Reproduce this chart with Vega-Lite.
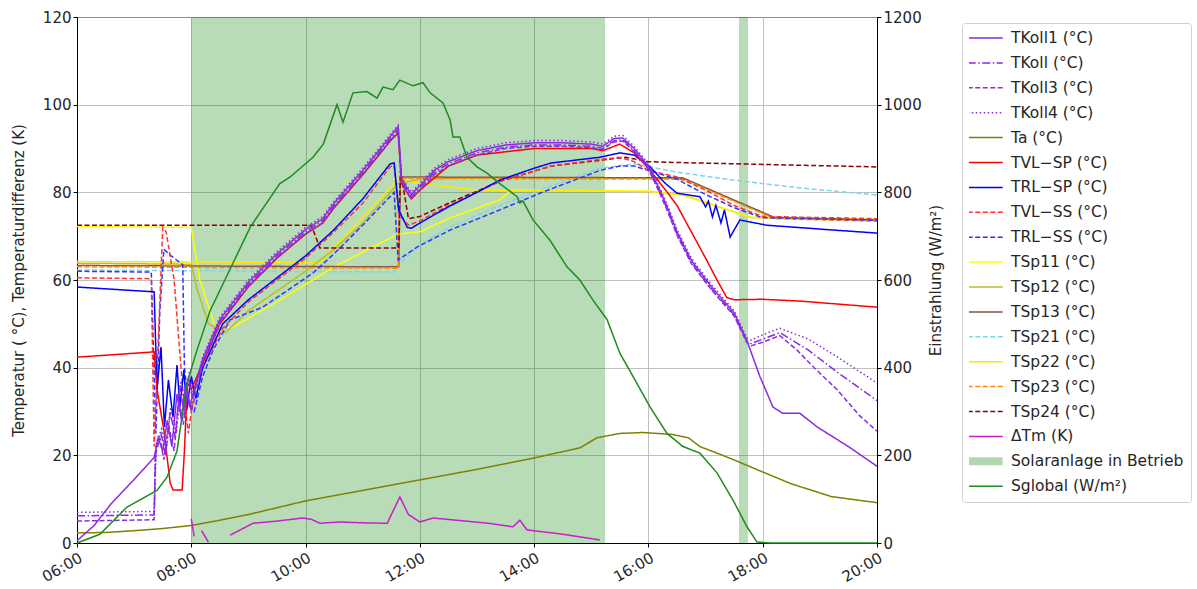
{
"$schema":"https://vega.github.io/schema/vega-lite/v6.json",
"width":800,"height":526,
"autosize":{"type":"none"},
"padding":{"left":77,"top":17,"right":320,"bottom":46},
"background":"white",
"datasets":{
"names":[
{"k":"K1","name":"TKoll1 (°C)"},{"k":"K","name":"TKoll (°C)"},{"k":"K3","name":"TKoll3 (°C)"},{"k":"K4","name":"TKoll4 (°C)"},
{"k":"Ta","name":"Ta (°C)"},{"k":"VLSP","name":"TVL−SP (°C)"},{"k":"RLSP","name":"TRL−SP (°C)"},{"k":"VLSS","name":"TVL−SS (°C)"},{"k":"RLSS","name":"TRL−SS (°C)"},
{"k":"S11","name":"TSp11 (°C)"},{"k":"S12","name":"TSp12 (°C)"},{"k":"S13","name":"TSp13 (°C)"},{"k":"S21","name":"TSp21 (°C)"},{"k":"S22","name":"TSp22 (°C)"},{"k":"S23","name":"TSp23 (°C)"},{"k":"S24","name":"TSp24 (°C)"},
{"k":"dT","name":"ΔTm (K)"},{"k":"SG","name":"Sglobal (W/m²)"}],
"bands":[{"a":8.0,"b":15.24},{"a":17.585,"b":17.743}],
"lines":[
{"k":"Ta","h":6.0,"v":2.3},{"k":"Ta","h":6.5,"v":2.4},{"k":"Ta","h":7.0,"v":2.8},{"k":"Ta","h":7.5,"v":3.3},{"k":"Ta","h":8.0,"v":4.0},{"k":"Ta","h":8.5,"v":5.2},{"k":"Ta","h":9.0,"v":6.5},{"k":"Ta","h":10.0,"v":9.6},{"k":"Ta","h":11.0,"v":12.0},{"k":"Ta","h":12.0,"v":14.4},{"k":"Ta","h":13.0,"v":16.8},{"k":"Ta","h":14.0,"v":19.4},{"k":"Ta","h":14.8,"v":21.7},{"k":"Ta","h":15.1,"v":24.0},{"k":"Ta","h":15.5,"v":25.0},{"k":"Ta","h":15.9,"v":25.2},{"k":"Ta","h":16.4,"v":24.8},{"k":"Ta","h":16.7,"v":24.0},{"k":"Ta","h":16.9,"v":22.0},{"k":"Ta","h":17.3,"v":20.0},{"k":"Ta","h":17.6,"v":18.4},{"k":"Ta","h":18.0,"v":16.2},{"k":"Ta","h":18.5,"v":13.5},{"k":"Ta","h":19.2,"v":10.6},{"k":"Ta","h":20.0,"v":9.2},
{"k":"S21","h":6.0,"v":62.3},{"k":"S21","h":11.55,"v":61.8},{"k":"S21","h":11.62,"v":63.5},{"k":"S21","h":12.0,"v":68.0},{"k":"S21","h":12.5,"v":72.0},{"k":"S21","h":13.4,"v":77.0},{"k":"S21","h":14.1,"v":80.5},{"k":"S21","h":15.15,"v":85.5},{"k":"S21","h":15.75,"v":86.5},{"k":"S21","h":16.5,"v":84.6},{"k":"S21","h":17.48,"v":82.8},{"k":"S21","h":18.65,"v":81.0},{"k":"S21","h":20.0,"v":79.4},
{"k":"S11","h":6.0,"v":72.2},{"k":"S11","h":8.0,"v":72.0},{"k":"S11","h":8.15,"v":60.0},{"k":"S11","h":8.4,"v":50.0},{"k":"S11","h":8.7,"v":49.0},{"k":"S11","h":9.5,"v":55.0},{"k":"S11","h":10.5,"v":63.0},{"k":"S11","h":11.62,"v":70.5},{"k":"S11","h":12.0,"v":71.0},{"k":"S11","h":12.5,"v":74.0},{"k":"S11","h":13.4,"v":78.3},{"k":"S11","h":13.6,"v":80.5},{"k":"S11","h":16.0,"v":80.3},{"k":"S11","h":16.6,"v":79.3},{"k":"S11","h":17.8,"v":74.3},{"k":"S11","h":20.0,"v":73.8},
{"k":"S22","h":6.0,"v":64.2},{"k":"S22","h":10.25,"v":64.0},{"k":"S22","h":11.62,"v":83.0},{"k":"S22","h":12.0,"v":82.0},{"k":"S22","h":13.0,"v":80.5},{"k":"S22","h":16.0,"v":80.2},{"k":"S22","h":16.6,"v":79.5},{"k":"S22","h":17.8,"v":74.2},{"k":"S22","h":20.0,"v":73.8},
{"k":"S12","h":6.0,"v":63.8},{"k":"S12","h":8.0,"v":63.6},{"k":"S12","h":8.1,"v":58.0},{"k":"S12","h":8.3,"v":50.0},{"k":"S12","h":8.6,"v":48.0},{"k":"S12","h":9.0,"v":53.0},{"k":"S12","h":9.5,"v":57.5},{"k":"S12","h":10.0,"v":62.0},{"k":"S12","h":10.5,"v":67.0},{"k":"S12","h":11.0,"v":73.0},{"k":"S12","h":11.62,"v":82.0},{"k":"S12","h":12.0,"v":83.0},{"k":"S12","h":13.0,"v":83.3},{"k":"S12","h":16.6,"v":83.2},{"k":"S12","h":18.2,"v":74.2},{"k":"S12","h":20.0,"v":73.6},
{"k":"S13","h":6.0,"v":63.3},{"k":"S13","h":11.63,"v":63.0},{"k":"S13","h":11.66,"v":83.5},{"k":"S13","h":16.6,"v":83.3},{"k":"S13","h":18.2,"v":74.3},{"k":"S13","h":20.0,"v":73.7},
{"k":"S23","h":6.0,"v":63.0},{"k":"S23","h":11.62,"v":62.7},{"k":"S23","h":11.65,"v":83.2},{"k":"S23","h":16.6,"v":83.0},{"k":"S23","h":18.2,"v":74.0},{"k":"S23","h":20.0,"v":73.4},
{"k":"S24","h":6.0,"v":72.5},{"k":"S24","h":10.1,"v":72.5},{"k":"S24","h":10.25,"v":67.3},{"k":"S24","h":11.63,"v":67.3},{"k":"S24","h":11.66,"v":85.0},{"k":"S24","h":11.8,"v":74.0},{"k":"S24","h":12.0,"v":74.5},{"k":"S24","h":12.5,"v":77.5},{"k":"S24","h":13.4,"v":82.5},{"k":"S24","h":14.3,"v":86.0},{"k":"S24","h":15.15,"v":87.3},{"k":"S24","h":15.6,"v":88.0},{"k":"S24","h":16.0,"v":87.0},{"k":"S24","h":16.5,"v":86.8},{"k":"S24","h":20.0,"v":85.8},
{"k":"RLSS","h":6.0,"v":62.0},{"k":"RLSS","h":7.3,"v":61.8},{"k":"RLSS","h":7.38,"v":25.0},{"k":"RLSS","h":7.45,"v":53.0},{"k":"RLSS","h":7.52,"v":67.0},{"k":"RLSS","h":7.65,"v":65.5},{"k":"RLSS","h":7.85,"v":63.5},{"k":"RLSS","h":7.88,"v":40.0},{"k":"RLSS","h":7.95,"v":32.0},{"k":"RLSS","h":8.05,"v":30.0},{"k":"RLSS","h":8.2,"v":38.0},{"k":"RLSS","h":8.38,"v":44.0},{"k":"RLSS","h":8.68,"v":50.9},{"k":"RLSS","h":9.25,"v":53.8},{"k":"RLSS","h":10.13,"v":61.6},{"k":"RLSS","h":10.5,"v":66.0},{"k":"RLSS","h":11.0,"v":72.5},{"k":"RLSS","h":11.55,"v":80.0},{"k":"RLSS","h":11.62,"v":64.6},{"k":"RLSS","h":11.95,"v":67.5},{"k":"RLSS","h":12.53,"v":71.4},{"k":"RLSS","h":13.4,"v":76.0},{"k":"RLSS","h":14.1,"v":79.8},{"k":"RLSS","h":15.15,"v":85.0},{"k":"RLSS","h":15.5,"v":86.0},{"k":"RLSS","h":15.75,"v":86.0},{"k":"RLSS","h":16.0,"v":85.0},{"k":"RLSS","h":16.5,"v":83.0},{"k":"RLSS","h":17.0,"v":79.5},{"k":"RLSS","h":17.5,"v":76.5},{"k":"RLSS","h":18.0,"v":74.2},{"k":"RLSS","h":20.0,"v":73.6},
{"k":"VLSS","h":6.0,"v":60.5},{"k":"VLSS","h":7.3,"v":60.3},{"k":"VLSS","h":7.35,"v":22.0},{"k":"VLSS","h":7.5,"v":72.0},{"k":"VLSS","h":7.56,"v":71.0},{"k":"VLSS","h":7.7,"v":60.0},{"k":"VLSS","h":7.85,"v":35.0},{"k":"VLSS","h":7.95,"v":25.0},{"k":"VLSS","h":8.05,"v":35.0},{"k":"VLSS","h":8.2,"v":40.0},{"k":"VLSS","h":8.55,"v":49.0},{"k":"VLSS","h":9.0,"v":55.0},{"k":"VLSS","h":9.5,"v":60.0},{"k":"VLSS","h":10.0,"v":65.0},{"k":"VLSS","h":10.5,"v":71.0},{"k":"VLSS","h":11.0,"v":77.5},{"k":"VLSS","h":11.48,"v":85.8},{"k":"VLSS","h":11.55,"v":86.2},{"k":"VLSS","h":11.63,"v":75.0},{"k":"VLSS","h":11.8,"v":72.5},{"k":"VLSS","h":12.0,"v":73.5},{"k":"VLSS","h":12.5,"v":77.0},{"k":"VLSS","h":13.4,"v":82.5},{"k":"VLSS","h":14.3,"v":86.0},{"k":"VLSS","h":15.15,"v":87.5},{"k":"VLSS","h":15.5,"v":88.0},{"k":"VLSS","h":15.75,"v":87.0},{"k":"VLSS","h":16.0,"v":85.0},{"k":"VLSS","h":16.5,"v":83.5},{"k":"VLSS","h":17.0,"v":80.5},{"k":"VLSS","h":17.5,"v":77.0},{"k":"VLSS","h":18.0,"v":74.5},{"k":"VLSS","h":20.0,"v":74.0},
{"k":"RLSP","h":6.0,"v":58.4},{"k":"RLSP","h":7.35,"v":57.3},{"k":"RLSP","h":7.4,"v":35.0},{"k":"RLSP","h":7.47,"v":44.7},{"k":"RLSP","h":7.53,"v":26.5},{"k":"RLSP","h":7.6,"v":37.2},{"k":"RLSP","h":7.68,"v":28.7},{"k":"RLSP","h":7.75,"v":40.6},{"k":"RLSP","h":7.8,"v":31.0},{"k":"RLSP","h":7.87,"v":39.5},{"k":"RLSP","h":7.92,"v":30.3},{"k":"RLSP","h":8.0,"v":38.0},{"k":"RLSP","h":8.08,"v":33.0},{"k":"RLSP","h":8.2,"v":40.0},{"k":"RLSP","h":8.55,"v":50.0},{"k":"RLSP","h":9.0,"v":55.5},{"k":"RLSP","h":9.5,"v":60.5},{"k":"RLSP","h":10.0,"v":65.5},{"k":"RLSP","h":10.5,"v":71.5},{"k":"RLSP","h":11.0,"v":78.5},{"k":"RLSP","h":11.48,"v":86.5},{"k":"RLSP","h":11.55,"v":86.7},{"k":"RLSP","h":11.63,"v":76.0},{"k":"RLSP","h":11.78,"v":72.0},{"k":"RLSP","h":11.85,"v":71.8},{"k":"RLSP","h":12.0,"v":73.0},{"k":"RLSP","h":12.5,"v":76.7},{"k":"RLSP","h":13.0,"v":80.0},{"k":"RLSP","h":13.4,"v":82.8},{"k":"RLSP","h":14.0,"v":85.5},{"k":"RLSP","h":14.3,"v":86.7},{"k":"RLSP","h":15.15,"v":88.0},{"k":"RLSP","h":15.5,"v":89.0},{"k":"RLSP","h":15.75,"v":88.5},{"k":"RLSP","h":16.03,"v":85.8},{"k":"RLSP","h":16.3,"v":82.0},{"k":"RLSP","h":16.5,"v":79.8},{"k":"RLSP","h":16.9,"v":79.0},{"k":"RLSP","h":17.0,"v":76.7},{"k":"RLSP","h":17.05,"v":78.0},{"k":"RLSP","h":17.12,"v":74.4},{"k":"RLSP","h":17.18,"v":77.0},{"k":"RLSP","h":17.27,"v":73.0},{"k":"RLSP","h":17.33,"v":76.0},{"k":"RLSP","h":17.43,"v":69.8},{"k":"RLSP","h":17.6,"v":73.7},{"k":"RLSP","h":18.07,"v":72.5},{"k":"RLSP","h":19.23,"v":71.4},{"k":"RLSP","h":20.0,"v":70.7},
{"k":"VLSP","h":6.0,"v":42.4},{"k":"VLSP","h":7.35,"v":43.6},{"k":"VLSP","h":7.4,"v":35.0},{"k":"VLSP","h":7.52,"v":25.8},{"k":"VLSP","h":7.63,"v":13.7},{"k":"VLSP","h":7.68,"v":12.1},{"k":"VLSP","h":7.84,"v":12.1},{"k":"VLSP","h":7.88,"v":21.0},{"k":"VLSP","h":7.93,"v":36.5},{"k":"VLSP","h":8.0,"v":35.0},{"k":"VLSP","h":8.2,"v":41.0},{"k":"VLSP","h":8.5,"v":50.0},{"k":"VLSP","h":9.0,"v":58.5},{"k":"VLSP","h":9.5,"v":65.0},{"k":"VLSP","h":10.0,"v":70.5},{"k":"VLSP","h":10.3,"v":73.0},{"k":"VLSP","h":10.5,"v":76.5},{"k":"VLSP","h":11.0,"v":84.0},{"k":"VLSP","h":11.5,"v":92.0},{"k":"VLSP","h":11.62,"v":93.5},{"k":"VLSP","h":11.68,"v":82.0},{"k":"VLSP","h":11.85,"v":78.5},{"k":"VLSP","h":12.0,"v":80.5},{"k":"VLSP","h":12.5,"v":86.0},{"k":"VLSP","h":13.0,"v":88.5},{"k":"VLSP","h":14.0,"v":90.0},{"k":"VLSP","h":15.0,"v":90.0},{"k":"VLSP","h":15.2,"v":89.5},{"k":"VLSP","h":15.5,"v":91.0},{"k":"VLSP","h":15.75,"v":89.0},{"k":"VLSP","h":16.0,"v":85.5},{"k":"VLSP","h":16.33,"v":80.0},{"k":"VLSP","h":16.5,"v":77.0},{"k":"VLSP","h":16.75,"v":71.0},{"k":"VLSP","h":17.0,"v":65.0},{"k":"VLSP","h":17.2,"v":60.0},{"k":"VLSP","h":17.37,"v":56.0},{"k":"VLSP","h":17.5,"v":55.5},{"k":"VLSP","h":18.0,"v":55.6},{"k":"VLSP","h":18.65,"v":55.2},{"k":"VLSP","h":20.0,"v":53.8},
{"k":"K4","h":6.0,"v":7.0},{"k":"K4","h":7.35,"v":7.2},{"k":"K4","h":7.39,"v":23.0},{"k":"K4","h":7.48,"v":26.0},{"k":"K4","h":7.56,"v":21.0},{"k":"K4","h":7.64,"v":31.0},{"k":"K4","h":7.74,"v":25.0},{"k":"K4","h":7.82,"v":37.0},{"k":"K4","h":7.9,"v":30.0},{"k":"K4","h":7.96,"v":39.0},{"k":"K4","h":8.04,"v":34.0},{"k":"K4","h":8.2,"v":42.5},{"k":"K4","h":8.5,"v":51.5},{"k":"K4","h":9.0,"v":60.0},{"k":"K4","h":9.5,"v":66.5},{"k":"K4","h":10.0,"v":72.0},{"k":"K4","h":10.3,"v":74.5},{"k":"K4","h":10.5,"v":78.0},{"k":"K4","h":11.0,"v":85.5},{"k":"K4","h":11.5,"v":93.5},{"k":"K4","h":11.62,"v":95.3},{"k":"K4","h":11.68,"v":83.5},{"k":"K4","h":11.85,"v":80.0},{"k":"K4","h":12.0,"v":82.0},{"k":"K4","h":12.25,"v":85.5},{"k":"K4","h":12.5,"v":87.5},{"k":"K4","h":13.0,"v":90.0},{"k":"K4","h":13.5,"v":91.3},{"k":"K4","h":14.0,"v":91.8},{"k":"K4","h":14.5,"v":91.8},{"k":"K4","h":15.0,"v":91.5},{"k":"K4","h":15.2,"v":91.0},{"k":"K4","h":15.4,"v":92.8},{"k":"K4","h":15.55,"v":93.0},{"k":"K4","h":15.75,"v":90.5},{"k":"K4","h":16.0,"v":86.5},{"k":"K4","h":16.2,"v":81.0},{"k":"K4","h":16.35,"v":76.5},{"k":"K4","h":16.5,"v":71.5},{"k":"K4","h":16.75,"v":65.0},{"k":"K4","h":17.1,"v":59.0},{"k":"K4","h":17.5,"v":53.0},{"k":"K4","h":17.72,"v":46.8},{"k":"K4","h":17.8,"v":46.3},{"k":"K4","h":18.0,"v":47.5},{"k":"K4","h":18.3,"v":49.0},{"k":"K4","h":18.8,"v":46.5},{"k":"K4","h":19.3,"v":42.5},{"k":"K4","h":20.0,"v":36.5},
{"k":"K3","h":6.0,"v":5.0},{"k":"K3","h":7.35,"v":5.3},{"k":"K3","h":7.37,"v":20.0},{"k":"K3","h":7.45,"v":24.0},{"k":"K3","h":7.52,"v":19.0},{"k":"K3","h":7.6,"v":27.0},{"k":"K3","h":7.7,"v":21.0},{"k":"K3","h":7.78,"v":33.0},{"k":"K3","h":7.86,"v":27.0},{"k":"K3","h":7.93,"v":35.0},{"k":"K3","h":8.0,"v":30.0},{"k":"K3","h":8.2,"v":40.5},{"k":"K3","h":8.5,"v":50.0},{"k":"K3","h":9.0,"v":58.5},{"k":"K3","h":9.5,"v":65.0},{"k":"K3","h":10.0,"v":70.5},{"k":"K3","h":10.3,"v":73.0},{"k":"K3","h":10.5,"v":76.5},{"k":"K3","h":11.0,"v":84.0},{"k":"K3","h":11.5,"v":92.0},{"k":"K3","h":11.62,"v":94.0},{"k":"K3","h":11.68,"v":82.0},{"k":"K3","h":11.85,"v":78.5},{"k":"K3","h":12.0,"v":80.5},{"k":"K3","h":12.25,"v":84.0},{"k":"K3","h":12.5,"v":86.0},{"k":"K3","h":13.0,"v":88.5},{"k":"K3","h":13.5,"v":90.0},{"k":"K3","h":14.0,"v":90.5},{"k":"K3","h":14.5,"v":90.5},{"k":"K3","h":15.0,"v":90.2},{"k":"K3","h":15.2,"v":89.8},{"k":"K3","h":15.4,"v":91.5},{"k":"K3","h":15.55,"v":91.7},{"k":"K3","h":15.75,"v":89.3},{"k":"K3","h":16.0,"v":85.3},{"k":"K3","h":16.2,"v":79.8},{"k":"K3","h":16.35,"v":75.2},{"k":"K3","h":16.5,"v":70.2},{"k":"K3","h":16.75,"v":63.8},{"k":"K3","h":17.1,"v":57.8},{"k":"K3","h":17.5,"v":51.8},{"k":"K3","h":17.72,"v":45.8},{"k":"K3","h":17.8,"v":45.0},{"k":"K3","h":18.0,"v":45.8},{"k":"K3","h":18.3,"v":47.3},{"k":"K3","h":18.6,"v":44.0},{"k":"K3","h":18.9,"v":40.0},{"k":"K3","h":19.3,"v":35.0},{"k":"K3","h":19.7,"v":29.0},{"k":"K3","h":20.0,"v":25.5},
{"k":"K","h":6.0,"v":6.2},{"k":"K","h":7.35,"v":6.4},{"k":"K","h":7.38,"v":22.0},{"k":"K","h":7.47,"v":25.0},{"k":"K","h":7.55,"v":20.0},{"k":"K","h":7.63,"v":30.0},{"k":"K","h":7.72,"v":24.0},{"k":"K","h":7.8,"v":36.0},{"k":"K","h":7.88,"v":29.0},{"k":"K","h":7.95,"v":38.0},{"k":"K","h":8.02,"v":33.0},{"k":"K","h":8.2,"v":41.5},{"k":"K","h":8.5,"v":50.5},{"k":"K","h":9.0,"v":59.0},{"k":"K","h":9.5,"v":65.5},{"k":"K","h":10.0,"v":71.0},{"k":"K","h":10.3,"v":73.5},{"k":"K","h":10.5,"v":77.0},{"k":"K","h":11.0,"v":84.5},{"k":"K","h":11.5,"v":92.5},{"k":"K","h":11.62,"v":94.3},{"k":"K","h":11.68,"v":82.5},{"k":"K","h":11.85,"v":79.0},{"k":"K","h":12.0,"v":81.0},{"k":"K","h":12.25,"v":84.5},{"k":"K","h":12.5,"v":86.5},{"k":"K","h":13.0,"v":89.0},{"k":"K","h":13.5,"v":90.3},{"k":"K","h":14.0,"v":90.8},{"k":"K","h":14.5,"v":90.8},{"k":"K","h":15.0,"v":90.5},{"k":"K","h":15.2,"v":90.0},{"k":"K","h":15.4,"v":91.8},{"k":"K","h":15.55,"v":92.0},{"k":"K","h":15.75,"v":89.5},{"k":"K","h":16.0,"v":85.5},{"k":"K","h":16.2,"v":80.0},{"k":"K","h":16.35,"v":75.5},{"k":"K","h":16.5,"v":70.5},{"k":"K","h":16.75,"v":64.0},{"k":"K","h":17.1,"v":58.0},{"k":"K","h":17.5,"v":52.0},{"k":"K","h":17.72,"v":46.0},{"k":"K","h":17.8,"v":45.5},{"k":"K","h":18.0,"v":46.5},{"k":"K","h":18.3,"v":48.0},{"k":"K","h":18.8,"v":44.0},{"k":"K","h":19.3,"v":39.0},{"k":"K","h":20.0,"v":32.5},
{"k":"K1","h":6.0,"v":0.5},{"k":"K1","h":6.3,"v":4.0},{"k":"K1","h":6.6,"v":9.0},{"k":"K1","h":7.0,"v":14.5},{"k":"K1","h":7.35,"v":19.5},{"k":"K1","h":7.42,"v":24.0},{"k":"K1","h":7.5,"v":21.0},{"k":"K1","h":7.58,"v":28.0},{"k":"K1","h":7.66,"v":22.0},{"k":"K1","h":7.75,"v":34.0},{"k":"K1","h":7.83,"v":28.0},{"k":"K1","h":7.9,"v":36.0},{"k":"K1","h":7.97,"v":31.0},{"k":"K1","h":8.05,"v":35.0},{"k":"K1","h":8.2,"v":42.0},{"k":"K1","h":8.5,"v":51.0},{"k":"K1","h":9.0,"v":59.5},{"k":"K1","h":9.5,"v":66.0},{"k":"K1","h":10.0,"v":71.5},{"k":"K1","h":10.3,"v":74.0},{"k":"K1","h":10.5,"v":77.5},{"k":"K1","h":11.0,"v":85.0},{"k":"K1","h":11.5,"v":93.0},{"k":"K1","h":11.62,"v":95.0},{"k":"K1","h":11.68,"v":83.0},{"k":"K1","h":11.85,"v":79.5},{"k":"K1","h":12.0,"v":81.5},{"k":"K1","h":12.25,"v":85.0},{"k":"K1","h":12.5,"v":87.0},{"k":"K1","h":13.0,"v":89.5},{"k":"K1","h":13.5,"v":90.8},{"k":"K1","h":14.0,"v":91.3},{"k":"K1","h":14.5,"v":91.3},{"k":"K1","h":15.0,"v":91.0},{"k":"K1","h":15.2,"v":90.5},{"k":"K1","h":15.4,"v":92.3},{"k":"K1","h":15.55,"v":92.4},{"k":"K1","h":15.75,"v":90.0},{"k":"K1","h":16.0,"v":86.0},{"k":"K1","h":16.2,"v":80.5},{"k":"K1","h":16.35,"v":76.0},{"k":"K1","h":16.5,"v":71.0},{"k":"K1","h":16.75,"v":64.5},{"k":"K1","h":17.1,"v":58.5},{"k":"K1","h":17.5,"v":52.5},{"k":"K1","h":17.72,"v":46.3},{"k":"K1","h":17.95,"v":38.0},{"k":"K1","h":18.18,"v":31.0},{"k":"K1","h":18.35,"v":29.6},{"k":"K1","h":18.65,"v":29.6},{"k":"K1","h":18.95,"v":26.5},{"k":"K1","h":19.5,"v":22.0},{"k":"K1","h":20.0,"v":17.5},
{"k":"dT","g":1,"h":8.0,"v":5.5},{"k":"dT","g":1,"h":8.05,"v":1.5},{"k":"dT","g":2,"h":8.18,"v":2.8},{"k":"dT","g":2,"h":8.3,"v":0.2},
{"k":"dT","g":3,"h":8.68,"v":1.8},{"k":"dT","g":3,"h":9.08,"v":4.5},{"k":"dT","g":3,"h":9.5,"v":5.0},{"k":"dT","g":3,"h":9.95,"v":5.7},{"k":"dT","g":3,"h":10.1,"v":5.4},{"k":"dT","g":3,"h":10.25,"v":4.5},{"k":"dT","g":3,"h":10.6,"v":4.8},{"k":"dT","g":3,"h":11.0,"v":4.6},{"k":"dT","g":3,"h":11.43,"v":4.5},{"k":"dT","g":3,"h":11.52,"v":7.0},{"k":"dT","g":3,"h":11.65,"v":10.5},{"k":"dT","g":3,"h":11.8,"v":6.5},{"k":"dT","g":3,"h":12.0,"v":4.8},{"k":"dT","g":3,"h":12.23,"v":5.7},{"k":"dT","g":3,"h":12.8,"v":5.0},{"k":"dT","g":3,"h":13.2,"v":4.5},{"k":"dT","g":3,"h":13.63,"v":3.7},{"k":"dT","g":3,"h":13.75,"v":5.2},{"k":"dT","g":3,"h":13.875,"v":3.0},{"k":"dT","g":3,"h":14.5,"v":2.0},{"k":"dT","g":3,"h":15.15,"v":0.7},
{"k":"SG","h":6.0,"v":0},{"k":"SG","h":6.4,"v":20},{"k":"SG","h":6.875,"v":82},{"k":"SG","h":7.4,"v":120},{"k":"SG","h":7.575,"v":150},{"k":"SG","h":7.75,"v":210},{"k":"SG","h":7.925,"v":365},{"k":"SG","h":8.1,"v":440},{"k":"SG","h":8.33,"v":530},{"k":"SG","h":8.68,"v":625},{"k":"SG","h":9.03,"v":720},{"k":"SG","h":9.2,"v":753},{"k":"SG","h":9.55,"v":820},{"k":"SG","h":9.73,"v":835},{"k":"SG","h":10.13,"v":880},{"k":"SG","h":10.31,"v":910},{"k":"SG","h":10.55,"v":1000},{"k":"SG","h":10.655,"v":960},{"k":"SG","h":10.83,"v":1027},{"k":"SG","h":11.075,"v":1030},{"k":"SG","h":11.25,"v":1015},{"k":"SG","h":11.355,"v":1040},{"k":"SG","h":11.53,"v":1034},{"k":"SG","h":11.65,"v":1056},{"k":"SG","h":11.88,"v":1043},{"k":"SG","h":12.055,"v":1050},{"k":"SG","h":12.18,"v":1027},{"k":"SG","h":12.405,"v":1004},{"k":"SG","h":12.53,"v":965},{"k":"SG","h":12.58,"v":926},{"k":"SG","h":12.7,"v":926},{"k":"SG","h":12.825,"v":880},{"k":"SG","h":13.0,"v":858},{"k":"SG","h":13.175,"v":844},{"k":"SG","h":13.4,"v":820},{"k":"SG","h":13.7,"v":790},{"k":"SG","h":13.75,"v":776},{"k":"SG","h":13.805,"v":780},{"k":"SG","h":13.98,"v":737},{"k":"SG","h":14.28,"v":690},{"k":"SG","h":14.575,"v":630},{"k":"SG","h":14.8,"v":600},{"k":"SG","h":15.03,"v":554},{"k":"SG","h":15.275,"v":510},{"k":"SG","h":15.5,"v":433},{"k":"SG","h":15.73,"v":380},{"k":"SG","h":16.03,"v":310},{"k":"SG","h":16.325,"v":250},{"k":"SG","h":16.605,"v":220},{"k":"SG","h":16.9,"v":205},{"k":"SG","h":17.2,"v":160},{"k":"SG","h":17.48,"v":98},{"k":"SG","h":17.725,"v":37},{"k":"SG","h":17.9,"v":2},{"k":"SG","h":18.13,"v":0},{"k":"SG","h":20.0,"v":0}
]},
"layer":[
{"data":{"name":"bands"},
 "mark":{"type":"rect","color":"#008000","opacity":0.28},
 "encoding":{
  "x":{"field":"a","type":"quantitative","scale":{"domain":[6,20],"nice":false,"zero":false},"axis":{"values":[6,8,10,12,14,16,18,20],"labelExpr":"(datum.value < 10 ? '0' : '') + datum.value + ':00'","labelAngle":-30,"labelAlign":"right","labelBaseline":"top","labelPadding":3,"grid":true,"title":null}},
  "x2":{"field":"b"}}},
{"data":{"name":"lines"},
 "transform":[{"filter":"datum.k !== 'SG'"},{"lookup":"k","from":{"data":{"name":"names"},"key":"k","fields":["name"]}}],
 "mark":{"type":"line","strokeWidth":1.5},
 "encoding":{
  "x":{"field":"h","type":"quantitative","scale":{"domain":[6,20],"nice":false,"zero":false},"axis":{"values":[6,8,10,12,14,16,18,20],"labelExpr":"(datum.value < 10 ? '0' : '') + datum.value + ':00'","labelAngle":-30,"labelAlign":"right","labelBaseline":"top","labelPadding":3,"grid":true,"title":null}},
  "y":{"field":"v","type":"quantitative","scale":{"domain":[0,120],"nice":false},"axis":{"values":[0,20,40,60,80,100,120],"grid":true,"title":"Temperatur ( °C), Temperaturdifferenz (K)","titlePadding":16}},
  "detail":{"field":"g","type":"nominal"},
  "color":{"field":"name","type":"nominal",
   "scale":{"domain":["TKoll1 (°C)","TKoll (°C)","TKoll3 (°C)","TKoll4 (°C)","Ta (°C)","TVL−SP (°C)","TRL−SP (°C)","TVL−SS (°C)","TRL−SS (°C)","TSp11 (°C)","TSp12 (°C)","TSp13 (°C)","TSp21 (°C)","TSp22 (°C)","TSp23 (°C)","TSp24 (°C)","ΔTm (K)","Solaranlage in Betrieb","Sglobal (W/m²)"],
    "range":["#8a2be2","#8a2be2","#8a2be2","#8a2be2","#808000","#ff0000","#0000ff","#ff3333","#3333ff","#ffff00","#bcbd22","#8c564b","#7fd4ee","#ffe800","#ff8c00","#8b0000","#c71fc7","#b2d8b2","#1f8a1f"]},
   "legend":{"clipHeight":16,"symbolOffset":8.5,"labelOffset":18,"encode":{"symbols":{"update":{"size":{"value":1225},"strokeWidth":{"signal":"datum.value === 'Solaranlage in Betrieb' ? 8 : 1.5"}}}}}},
  "strokeDash":{"field":"name","type":"nominal",
   "scale":{"domain":["TKoll1 (°C)","TKoll (°C)","TKoll3 (°C)","TKoll4 (°C)","Ta (°C)","TVL−SP (°C)","TRL−SP (°C)","TVL−SS (°C)","TRL−SS (°C)","TSp11 (°C)","TSp12 (°C)","TSp13 (°C)","TSp21 (°C)","TSp22 (°C)","TSp23 (°C)","TSp24 (°C)","ΔTm (K)","Solaranlage in Betrieb","Sglobal (W/m²)"],
    "range":[[1,0],[8,2.5,1.5,2.5],[5,2.5],[1.5,2.5],[1,0],[1,0],[1,0],[5,2.5],[5,2.5],[1,0],[1,0],[1,0],[5,2.5],[1,0],[5,2.5],[5,2.5],[1,0],[1,0],[1,0]]}}}},
{"data":{"name":"lines"},
 "transform":[{"filter":"datum.k === 'SG'"},{"lookup":"k","from":{"data":{"name":"names"},"key":"k","fields":["name"]}}],
 "mark":{"type":"line","strokeWidth":1.5},
 "encoding":{
  "x":{"field":"h","type":"quantitative","scale":{"domain":[6,20],"nice":false,"zero":false},"axis":{"values":[6,8,10,12,14,16,18,20],"labelExpr":"(datum.value < 10 ? '0' : '') + datum.value + ':00'","labelAngle":-30,"labelAlign":"right","labelBaseline":"top","labelPadding":3,"grid":true,"title":null}},
  "y":{"field":"v","type":"quantitative","scale":{"domain":[0,1200],"nice":false},"axis":{"orient":"right","values":[0,200,400,600,800,1000,1200],"format":"d","grid":false,"title":"Einstrahlung (W/m²)","titleAngle":270,"titlePadding":22}},
  "color":{"field":"name","type":"nominal",
   "scale":{"domain":["TKoll1 (°C)","TKoll (°C)","TKoll3 (°C)","TKoll4 (°C)","Ta (°C)","TVL−SP (°C)","TRL−SP (°C)","TVL−SS (°C)","TRL−SS (°C)","TSp11 (°C)","TSp12 (°C)","TSp13 (°C)","TSp21 (°C)","TSp22 (°C)","TSp23 (°C)","TSp24 (°C)","ΔTm (K)","Solaranlage in Betrieb","Sglobal (W/m²)"],
    "range":["#8a2be2","#8a2be2","#8a2be2","#8a2be2","#808000","#ff0000","#0000ff","#ff3333","#3333ff","#ffff00","#bcbd22","#8c564b","#7fd4ee","#ffe800","#ff8c00","#8b0000","#c71fc7","#b2d8b2","#1f8a1f"]}}}}
],
"resolve":{"scale":{"y":"independent"}},
"config":{
 "font":"DejaVu Sans",
 "view":{"stroke":"#000","strokeWidth":1},
 "axis":{"labelFont":"DejaVu Sans","labelFontSize":15,"labelColor":"#262626","titleFont":"DejaVu Sans","titleFontSize":15,"titleFontWeight":"normal","titleColor":"#262626","domainColor":"#000","tickColor":"#000","tickSize":4,"gridColor":"#b0b0b0","gridWidth":0.8,"gridOpacity":1},
 "legend":{"orient":"none","legendX":885,"legendY":6,"title":null,"strokeColor":"#d0d0d0","fillColor":"white","padding":7,"cornerRadius":3,"labelFont":"DejaVu Sans","labelFontSize":15.5,"labelColor":"#262626","symbolType":"stroke","symbolSize":1225,"symbolStrokeWidth":1.5,"rowPadding":7.9,"labelLimit":300}
}
}
